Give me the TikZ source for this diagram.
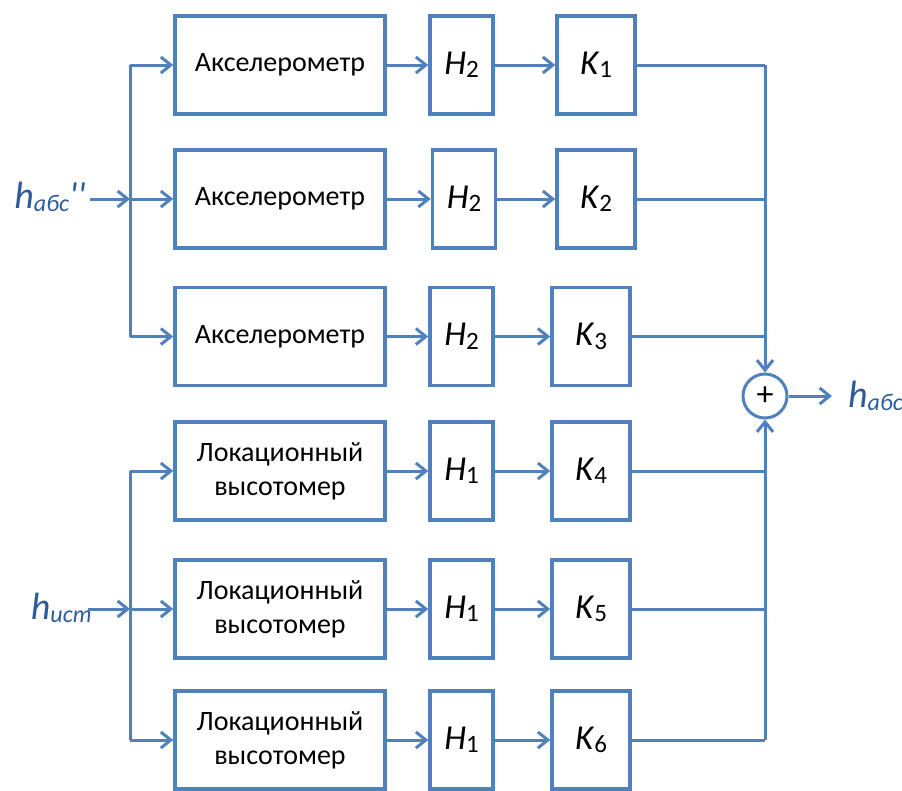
\documentclass[tikz,border=0pt]{standalone}
\usepackage{fontspec}
\setmainfont{Carlito}
\usetikzlibrary{arrows.meta}
\definecolor{lb}{HTML}{4F81BD}
\definecolor{tb}{HTML}{2E5C9A}
\tikzset{
  blk/.style={draw=lb, line width=3.5pt, fill=white, minimum height=98pt, inner sep=0pt, align=center, font=\fontsize{28}{34}\selectfont},
  wide/.style={blk, minimum width=210pt},
  hb/.style={blk, minimum width=63pt, font=\fontsize{35}{40}\selectfont},
  kb/.style={blk, minimum width=78pt, font=\fontsize{35}{40}\selectfont},
  ln/.style={draw=lb, line width=3pt},
  ar/.style={ln, -{Straight Barb[length=10pt,width=16pt,line width=3pt]}},
  lbl/.style={text=tb, font=\fontsize{38}{42}\selectfont\itshape, inner sep=0pt},
}
\newcommand{\sbs}[1]{\raisebox{-0.1em}{\fontsize{25}{28}\selectfont #1}}
\newcommand{\lsb}[1]{\raisebox{-0.08em}{\fontsize{24}{28}\selectfont #1}}
\begin{document}
\begin{tikzpicture}[x=1pt,y=-1pt]
\useasboundingbox (0,0) rectangle (902,790);
% row boxes
\node[wide] (a1) at (280,65) {Акселерометр};
\node[hb] (h1) at (461.5,65) {\textit{H}\sbs{2}};
\node[kb] (k1) at (596,65) {\textit{K}\sbs{1}};
\node[wide] (a2) at (280,199) {Акселерометр};
\node[hb] (h2) at (464,199) {\textit{H}\sbs{2}};
\node[kb] (k2) at (596,199) {\textit{K}\sbs{2}};
\node[wide] (a3) at (280,336.5) {Акселерометр};
\node[hb] (h3) at (461.5,336.5) {\textit{H}\sbs{2}};
\node[kb] (k3) at (591,336.5) {\textit{K}\sbs{3}};
\node[wide] (a4) at (280,471) {Локационный\\высотомер};
\node[hb] (h4) at (461.5,471) {\textit{H}\sbs{1}};
\node[kb] (k4) at (591,471) {\textit{K}\sbs{4}};
\node[wide] (a5) at (280,609) {Локационный\\высотомер};
\node[hb] (h5) at (461.5,609) {\textit{H}\sbs{1}};
\node[kb] (k5) at (591,609) {\textit{K}\sbs{5}};
\node[wide] (a6) at (280,740) {Локационный\\высотомер};
\node[hb] (h6) at (461.5,740) {\textit{H}\sbs{1}};
\node[kb] (k6) at (591,740) {\textit{K}\sbs{6}};
% sum
\node[draw=lb, line width=3pt, circle, minimum size=44pt, inner sep=0pt, font=\fontsize{34}{36}\selectfont] (s) at (765,396) {+};
\node[lbl, anchor=west] (out) at (848,396) {h\lsb{абс}};
\coordinate (o1) at (832,396);
% inputs
\node[lbl, anchor=east] (in1) at (86,197) {h\lsb{абс}\textquotesingle\textquotesingle};
\node[lbl, anchor=east] (in2) at (92,608) {h\lsb{ист}};
\coordinate (j1) at (130,199);
\coordinate (j2) at (130,609);
\coordinate (i1) at (90,199);
\coordinate (i2) at (88,609);
\coordinate (t1) at (130,65);
\coordinate (b1) at (130,336.5);
\coordinate (t2) at (130,471);
\coordinate (b2) at (130,740);
\draw[ar] (i1) -- (j1);
\draw[ar] (i2) -- (j2);
\draw[ln] (t1) -- (b1);
\draw[ln] (t2) -- (b2);
\foreach \i/\j in {t1/a1,j1/a2,b1/a3,t2/a4,j2/a5,b2/a6}
  \draw[ar] (\i) -- (\j.west);
\foreach \i in {1,...,6}
  \draw[ar] (a\i.east) -- (h\i.west);
\foreach \i in {1,...,6}
  \draw[ar] (h\i.east) -- (k\i.west);
% output bus
\coordinate (r1) at (765,65);
\coordinate (r6) at (765,740);
\draw[ln] (k1.east) -- (r1);
\draw[ln] (k2.east) -- (k2.east -| s);
\draw[ln] (k3.east) -- (k3.east -| s);
\draw[ln] (k4.east) -- (k4.east -| s);
\draw[ln] (k5.east) -- (k5.east -| s);
\draw[ln] (k6.east) -- (r6);
\draw[ar] (r1) -- (s.north);
\draw[ar] (r6) -- (s.south);
\draw[ar] (s.east) -- (o1);
\end{tikzpicture}
\end{document}
